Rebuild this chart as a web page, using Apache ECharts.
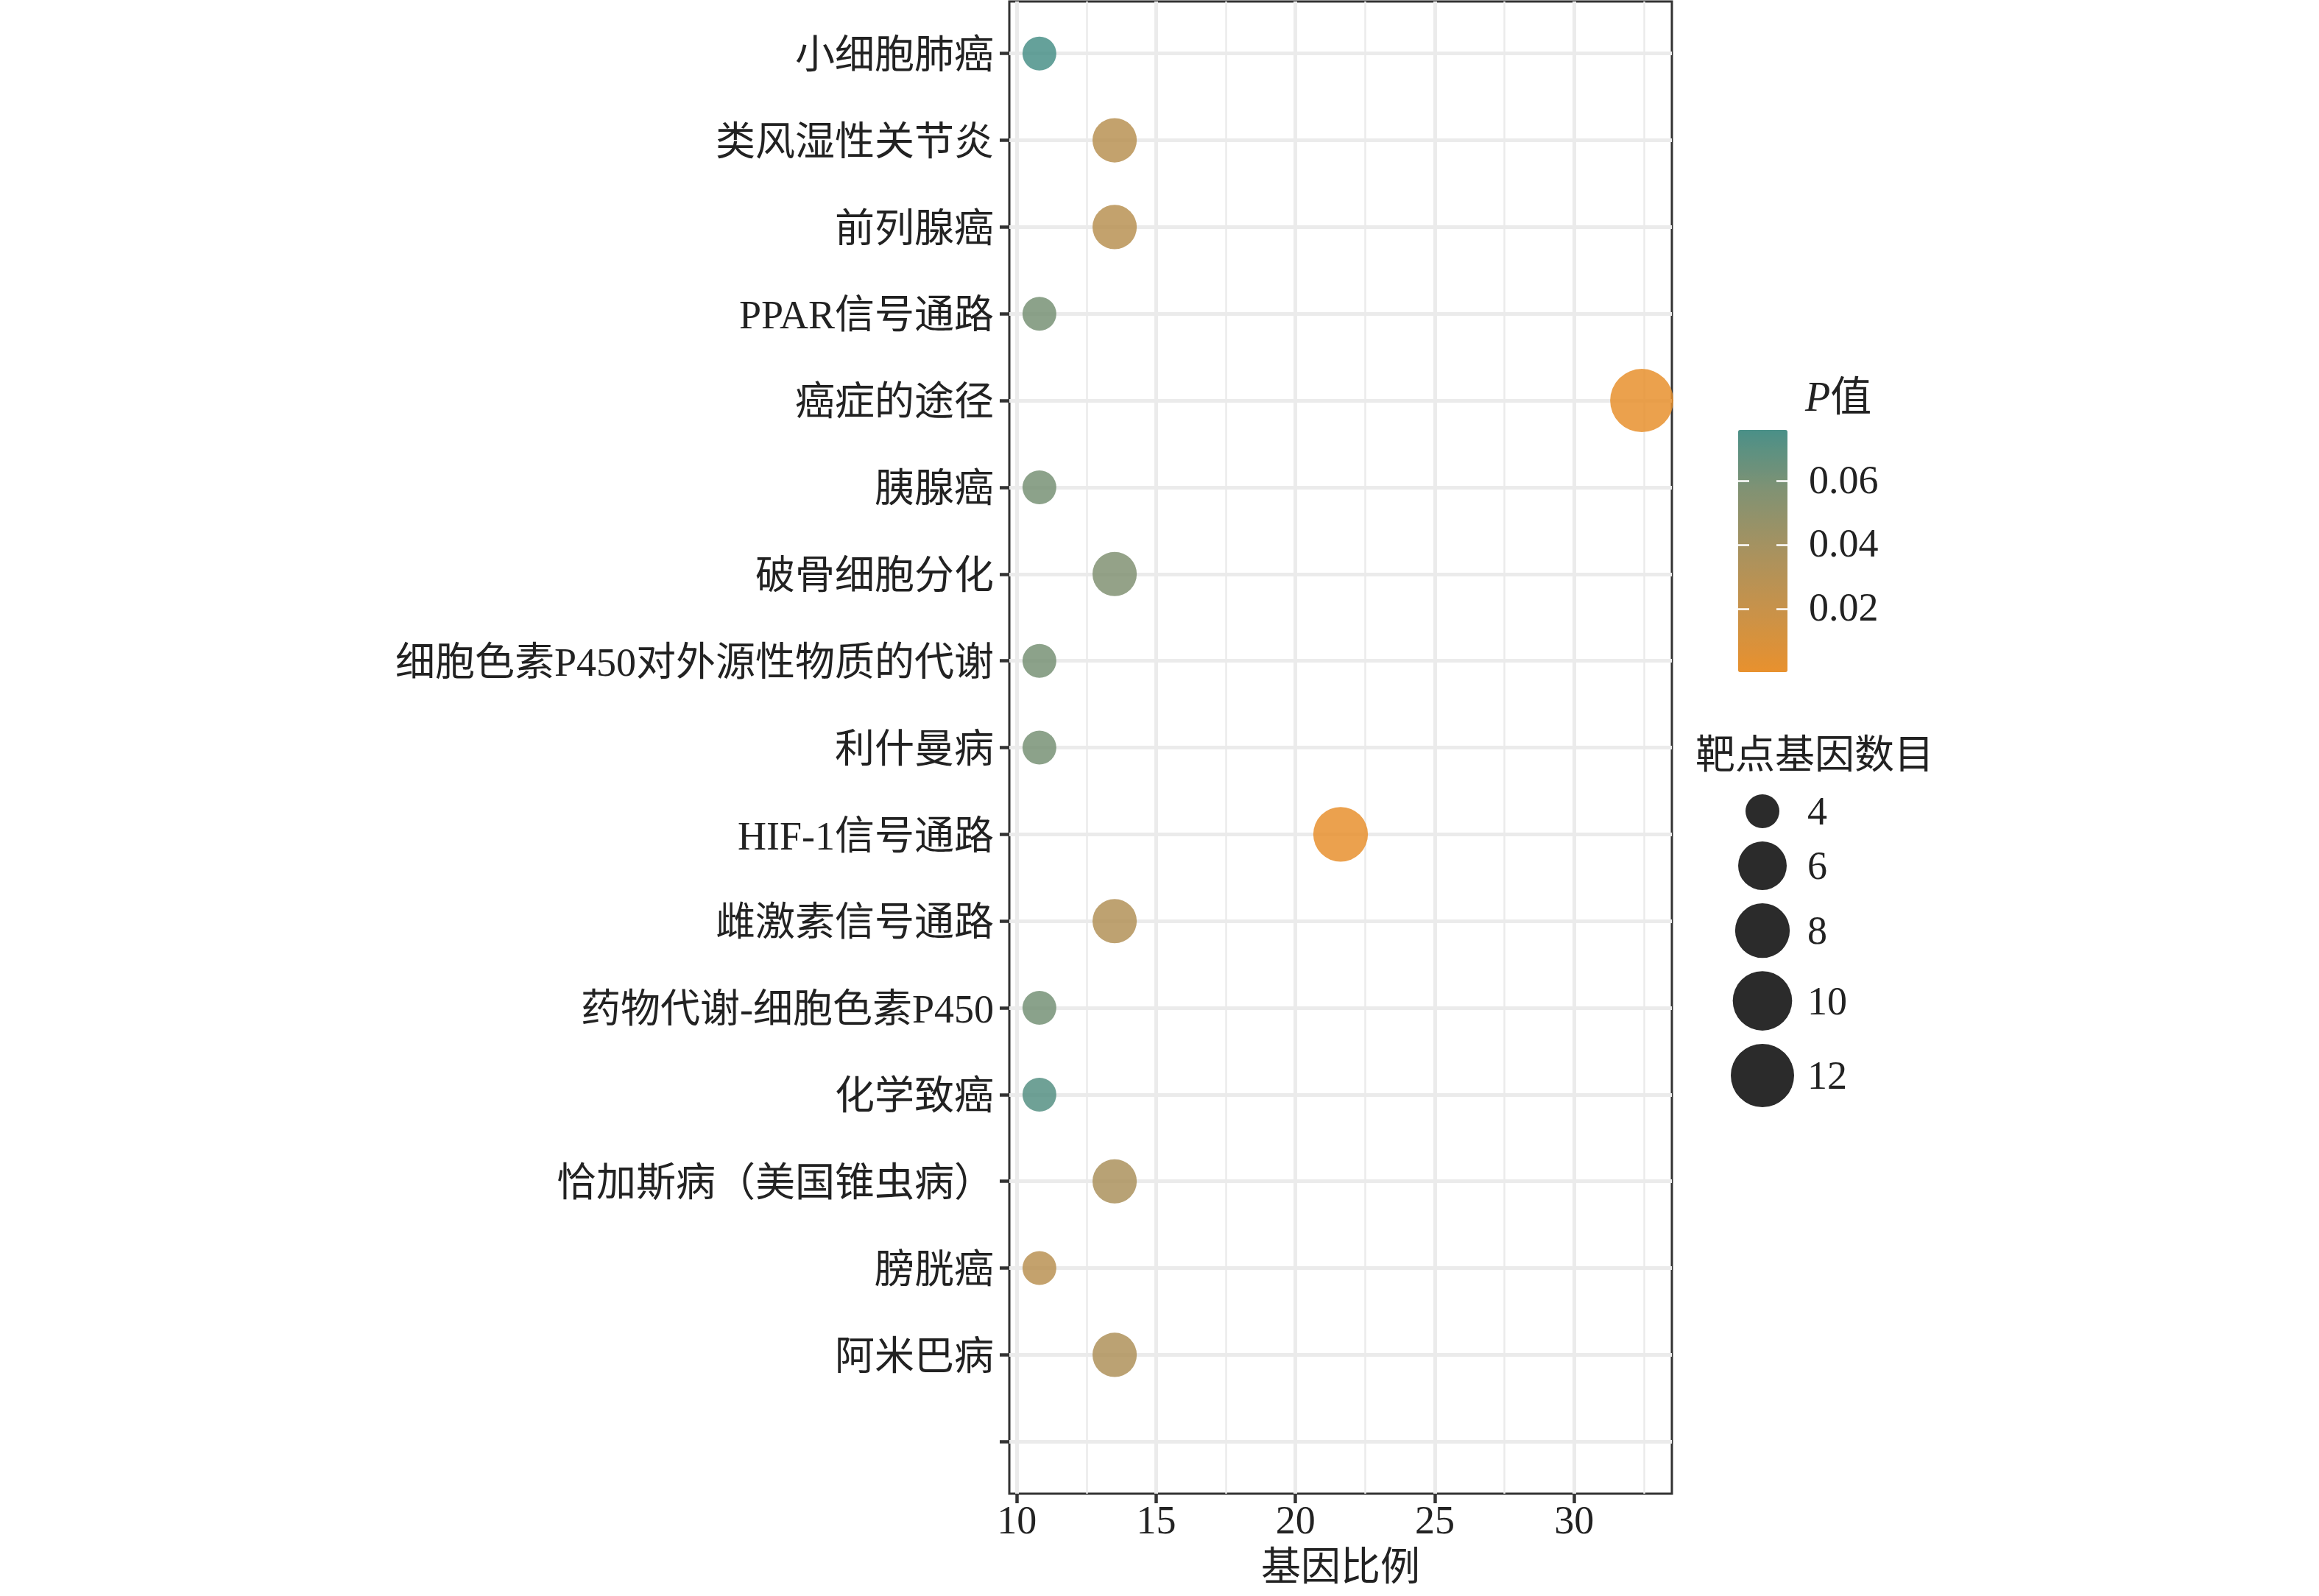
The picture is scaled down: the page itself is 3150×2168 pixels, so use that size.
<!DOCTYPE html>
<html>
<head>
<meta charset="utf-8">
<script src="https://cdn.jsdelivr.net/npm/echarts@6/dist/echarts.min.js"></script>
<style>
html, body { margin: 0; padding: 0; background: #fff; }
#chart { width: 3150px; height: 2168px; }
</style>
</head>
<body>
<div id="chart"></div>
<script>
// pathways, top to bottom (last one is the empty level)
var pathways = ['小细胞肺癌', '类风湿性关节炎', '前列腺癌', 'PPAR信号通路', '癌症的途径', '胰腺癌',
    '破骨细胞分化', '细胞色素P450对外源性物质的代谢', '利什曼病', 'HIF-1信号通路', '雌激素信号通路',
    '药物代谢-细胞色素P450', '化学致癌', '恰加斯病（美国锥虫病）', '膀胱癌', '阿米巴病', ''];
var geneRatio = [10.81, 13.51, 13.51, 10.81, 32.43, 10.81, 13.51, 10.81, 10.81, 21.62, 13.51, 10.81, 10.81, 13.51, 10.81, 13.51];
var pValue    = [0.076, 0.029, 0.029, 0.060, 0.0002, 0.060, 0.057, 0.060, 0.060, 0.001, 0.032, 0.061, 0.072, 0.036, 0.028, 0.034];
var geneCount = [4, 5, 5, 4, 12, 4, 5, 4, 4, 8, 5, 4, 4, 5, 4, 5];

var xRange = [9.73, 33.51];
var xTicks = [10, 15, 20, 25, 30];
var xMinorTicks = [12.5, 17.5, 22.5, 27.5, 32.5];
var pTicks = [0.02, 0.04, 0.06];
var sizeBreaks = [4, 6, 8, 10, 12];

var FONT = '"Liberation Serif", "Noto Sans CJK SC", serif';
var TXT = '#222222';
var GRID_COL = '#EBEBEB';

var chart = echarts.init(document.getElementById('chart'));

var pMin = Math.min.apply(null, pValue);
var pMax = Math.max.apply(null, pValue);

// diameter in px for a gene count (area scale)
function dotSize(n) {
    return 46 + 40 * Math.sqrt((n - 4) / 8);
}

var points = geneRatio.map(function (r, i) {
    return [r, i + 1, pValue[i], geneCount[i]];
});
var yTickVals = pathways.map(function (_, i) { return i + 1; });

// size legend keys
var sizeLegend = [];
var cy = 1102;
sizeBreaks.forEach(function (n, i) {
    var d = dotSize(n);
    if (i > 0) cy += (dotSize(sizeBreaks[i - 1]) + d) / 2 + 18;
    sizeLegend.push({
        type: 'circle',
        shape: { cx: 2394, cy: cy, r: d / 2 },
        style: { fill: '#2b2b2b' }
    });
    sizeLegend.push({
        type: 'text',
        x: 2455, y: cy + 4,
        style: { text: String(n), fontSize: 54, fontFamily: FONT, fill: TXT, align: 'left', verticalAlign: 'middle' }
    });
});

var option = {
    animation: false,
    backgroundColor: '#fff',
    title: [{
        text: '{i|P}值',
        left: 2452, top: 515, padding: 0,
        textStyle: {
            fontSize: 56, fontFamily: FONT, color: TXT, fontWeight: 'normal',
            rich: { i: { fontStyle: 'italic', fontSize: 56, fontFamily: FONT, color: TXT } }
        }
    }, {
        text: '靶点基因数目',
        left: 2303, top: 1003, padding: 0,
        textStyle: { fontSize: 54, fontFamily: FONT, color: TXT, fontWeight: 'normal' }
    }],
    grid: [{
        left: 1371, top: 2, width: 900, height: 2027,
        show: true, borderColor: '#333', borderWidth: 3, backgroundColor: 'transparent'
    }, {
        left: 2361, top: 584, width: 67, height: 329, show: false
    }],
    xAxis: [{
        gridIndex: 0, type: 'value', min: xRange[0], max: xRange[1],
        axisLine: { show: false },
        axisTick: { show: true, length: 13, customValues: xTicks, lineStyle: { color: '#333', width: 4.5 } },
        axisLabel: { customValues: xTicks, fontSize: 54, fontFamily: FONT, color: TXT, margin: 13 },
        splitLine: { show: true, lineStyle: { color: GRID_COL, width: 5 } },
        name: '基因比例', nameLocation: 'middle', nameGap: 77,
        nameTextStyle: { fontSize: 54, fontFamily: FONT, color: TXT }
    }, {
        gridIndex: 0, type: 'value', min: xRange[0], max: xRange[1], position: 'bottom',
        axisLine: { show: false },
        axisTick: { show: false, customValues: xMinorTicks },
        axisLabel: { show: false },
        splitLine: { show: true, lineStyle: { color: GRID_COL, width: 2.5 } }
    }, {
        gridIndex: 1, type: 'value', show: false
    }],
    yAxis: [{
        gridIndex: 0, type: 'value', inverse: true, min: 0.4, max: 17.6,
        axisLine: { show: false },
        axisTick: { show: true, length: 13, customValues: yTickVals, lineStyle: { color: '#333', width: 4.5 } },
        axisLabel: {
            customValues: yTickVals, margin: 21,
            formatter: function (v) {
                var s = pathways[Math.round(v) - 1] || '';
                return s ? '{a|' + s + '}' : '';
            },
            rich: { a: { fontSize: 54, fontFamily: FONT, color: TXT, padding: [12, 0, 0, 0] } }
        },
        splitLine: { show: true, lineStyle: { color: GRID_COL, width: 5 } }
    }, {
        gridIndex: 1, type: 'value', position: 'left', min: pMin, max: pMax, z: 10,
        axisLine: { show: false },
        axisTick: { show: true, inside: true, length: 15, customValues: pTicks, lineStyle: { color: '#fff', width: 2.5 } },
        axisLabel: { show: false },
        splitLine: { show: false }
    }, {
        gridIndex: 1, type: 'value', position: 'right', min: pMin, max: pMax, z: 10,
        axisLine: { show: false },
        axisTick: { show: true, inside: true, length: 15, customValues: pTicks, lineStyle: { color: '#fff', width: 2.5 } },
        axisLabel: {
            customValues: pTicks, margin: 29,
            formatter: function (v) { return '{a|' + v.toFixed(2) + '}'; },
            rich: { a: { fontSize: 54, fontFamily: FONT, color: TXT, padding: [4, 0, 0, 0] } }
        },
        splitLine: { show: false }
    }],
    visualMap: {
        type: 'continuous', seriesIndex: 0, dimension: 2,
        min: pMin, max: pMax,
        left: 2361, top: 584, itemWidth: 67, itemHeight: 329, padding: 0,
        calculable: false, hoverLink: false, z: 2,
        inRange: { color: ['#E8912E', '#C99249', '#A8925F', '#819273', '#4A9088'] }
    },
    graphic: sizeLegend,
    series: [{
        type: 'scatter',
        xAxisIndex: 0, yAxisIndex: 0,
        data: points,
        symbol: 'circle',
        symbolSize: function (d) { return dotSize(d[3]); },
        itemStyle: { opacity: 0.85 },
        z: 3
    }]
};

chart.setOption(option);
window.addEventListener('resize', function () { chart.resize(); });
</script>
</body>
</html>
